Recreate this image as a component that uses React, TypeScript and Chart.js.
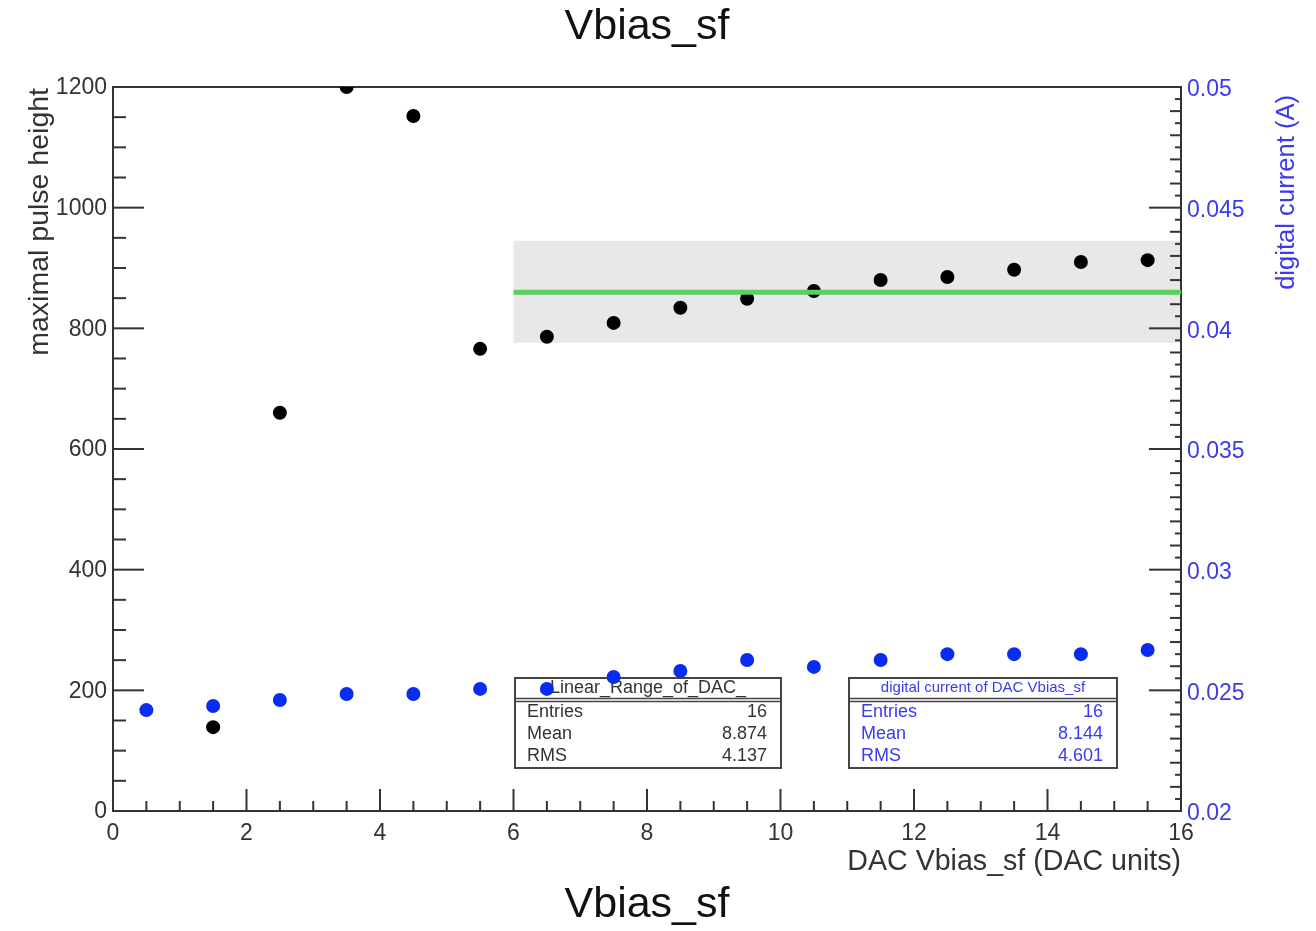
import React, { useEffect, useRef } from "react";
import { Chart, registerables } from "chart.js";

Chart.register(...registerables);

// ---------- data ----------
const dacValues = [0.5, 1.5, 2.5, 3.5, 4.5, 5.5, 6.5, 7.5, 8.5, 9.5, 10.5, 11.5, 12.5, 13.5, 14.5, 15.5];
const pulseHeight: (number | null)[] = [null, 139, 660, 1200, 1152, 766, 786, 809, 834, 849, 862, 880, 885, 897, 910, 913];
const digitalCurrent = [0.02418, 0.02435, 0.0246, 0.02485, 0.02485, 0.02506, 0.02506, 0.02555, 0.0258, 0.02626, 0.02597, 0.02626, 0.0265, 0.0265, 0.0265, 0.02667];

const fitRangeX = [6, 16];
const fitBandY = [776, 945];
const fitValue = 860;

const xTicks = [0, 2, 4, 6, 8, 10, 12, 14, 16];
const yTicks = [0, 200, 400, 600, 800, 1000, 1200];
const y2Ticks = [0.02, 0.025, 0.03, 0.035, 0.04, 0.045, 0.05];
const y2TickLabels = ["0.02", "0.025", "0.03", "0.035", "0.04", "0.045", "0.05"];

const statsLinearLabels = ["Entries", "Mean", "RMS"];
const statsLinearValues = ["16", "8.874", "4.137"];
const statsLinearTitle = "Linear_Range_of_DAC_";
const statsCurrentValues = ["16", "8.144", "4.601"];
const statsCurrentTitle = "digital current of DAC Vbias_sf";

const chartTitle = "Vbias_sf";
const xTitle = "DAC Vbias_sf (DAC units)";
const yTitle = "maximal pulse height";
const y2Title = "digital current (A)";

const FONT = '"Liberation Sans", Arial, Helvetica, sans-serif';
const AXIS = "#333333";
const BLUE_TXT = "#3a3aee";

function drawStats(ctx: CanvasRenderingContext2D, left: number, top: number, w: number, title: string, values: string[], color: string, titleSize: number) {
  const h = 90;
  ctx.save();
  ctx.fillStyle = "#ffffff";
  ctx.fillRect(left, top, w, h);
  ctx.strokeStyle = "#444444";
  ctx.lineWidth = 2;
  ctx.strokeRect(left, top, w, h);
  ctx.beginPath();
  ctx.moveTo(left, top + 20.5);
  ctx.lineTo(left + w, top + 20.5);
  ctx.moveTo(left, top + 23.5);
  ctx.lineTo(left + w, top + 23.5);
  ctx.lineWidth = 1.5;
  ctx.stroke();
  ctx.fillStyle = color;
  ctx.textBaseline = "middle";
  ctx.font = `${titleSize}px ${FONT}`;
  ctx.textAlign = "center";
  ctx.fillText(title, left + w / 2, top + 10, w - 30);
  ctx.font = `18px ${FONT}`;
  const rowsY = [34, 56, 78];
  for (let i = 0; i < statsLinearLabels.length; i++) {
    ctx.textAlign = "left";
    ctx.fillText(statsLinearLabels[i], left + 12, top + rowsY[i]);
    ctx.textAlign = "right";
    ctx.fillText(values[i], left + w - 14, top + rowsY[i]);
  }
  ctx.restore();
}

const decorPlugin = {
  id: "rootDecor",
  beforeDatasetsDraw(chart: any) {
    const { ctx, chartArea: a, scales } = chart;
    const xs = scales.x, ys = scales.y, y2 = scales.y2;
    ctx.save();
    // fit band
    const bx0 = xs.getPixelForValue(fitRangeX[0]);
    const bx1 = xs.getPixelForValue(fitRangeX[1]);
    const by0 = ys.getPixelForValue(fitBandY[1]);
    const by1 = ys.getPixelForValue(fitBandY[0]);
    ctx.fillStyle = "#e8e8e8";
    ctx.fillRect(bx0, by0, bx1 - bx0, by1 - by0);

    // frame
    ctx.strokeStyle = AXIS;
    ctx.lineWidth = 2;
    ctx.strokeRect(a.left, a.top, a.right - a.left, a.bottom - a.top);

    // left axis ticks
    ctx.lineWidth = 2;
    for (let v = 0; v <= 1200; v += 50) {
      const py = ys.getPixelForValue(v);
      const len = v % 200 === 0 ? 31 : 13;
      ctx.beginPath();
      ctx.moveTo(a.left, py);
      ctx.lineTo(a.left + len, py);
      ctx.stroke();
    }
    // bottom axis ticks
    for (let v = 0; v <= 16; v += 0.5) {
      const px = xs.getPixelForValue(v);
      const len = v % 2 === 0 ? 22 : 10;
      ctx.beginPath();
      ctx.moveTo(px, a.bottom);
      ctx.lineTo(px, a.bottom - len);
      ctx.stroke();
    }
    // right axis ticks
    for (let i = 0; i <= 60; i++) {
      const v = 0.02 + i * 0.0005;
      const py = y2.getPixelForValue(v);
      const len = i % 10 === 0 ? 32 : i % 2 === 0 ? 11 : 6;
      ctx.beginPath();
      ctx.moveTo(a.right, py);
      ctx.lineTo(a.right - len, py);
      ctx.stroke();
    }

    // stats boxes
    drawStats(ctx, 515, 678, 266, statsLinearTitle, statsLinearValues, "#333333", 18);
    drawStats(ctx, 849, 678, 268, statsCurrentTitle, statsCurrentValues, BLUE_TXT, 15);

    // tick labels
    ctx.fillStyle = AXIS;
    ctx.font = `23px ${FONT}`;
    ctx.textAlign = "right";
    ctx.textBaseline = "middle";
    yTicks.forEach((v) => {
      ctx.fillText(String(v), a.left - 6, ys.getPixelForValue(v) + 1);
    });
    ctx.textAlign = "center";
    ctx.textBaseline = "top";
    xTicks.forEach((v) => {
      ctx.fillText(String(v), xs.getPixelForValue(v), a.bottom + 11);
    });
    ctx.fillStyle = BLUE_TXT;
    ctx.textAlign = "left";
    ctx.textBaseline = "middle";
    y2Ticks.forEach((v, i) => {
      ctx.fillText(y2TickLabels[i], a.right + 6, y2.getPixelForValue(v) + 3);
    });

    // axis titles
    ctx.fillStyle = AXIS;
    ctx.font = `28.6px ${FONT}`;
    ctx.textAlign = "right";
    ctx.textBaseline = "alphabetic";
    ctx.fillText(xTitle, a.right, a.bottom + 59);

    ctx.save();
    ctx.font = `28.5px ${FONT}`;
    ctx.translate(48, a.top + 1);
    ctx.rotate(-Math.PI / 2);
    ctx.textAlign = "right";
    ctx.fillText(yTitle, 0, 0);
    ctx.restore();

    ctx.save();
    ctx.fillStyle = BLUE_TXT;
    ctx.font = `25.6px ${FONT}`;
    ctx.translate(1294, a.top + 8);
    ctx.rotate(-Math.PI / 2);
    ctx.textAlign = "right";
    ctx.fillText(y2Title, 0, 0);
    ctx.restore();

    // titles
    ctx.fillStyle = "#111111";
    ctx.font = `43px ${FONT}`;
    ctx.textAlign = "center";
    ctx.textBaseline = "middle";
    ctx.fillText(chartTitle, 647, 27);
    ctx.fillText(chartTitle, 647, 905);
    ctx.restore();
  },
  afterDatasetsDraw(chart: any) {
    const { ctx, scales } = chart;
    const xs = scales.x, ys = scales.y;
    ctx.save();
    ctx.strokeStyle = "#5ccf5c";
    ctx.lineWidth = 5;
    ctx.beginPath();
    const py = ys.getPixelForValue(fitValue);
    ctx.moveTo(xs.getPixelForValue(fitRangeX[0]), py);
    ctx.lineTo(xs.getPixelForValue(fitRangeX[1]), py);
    ctx.stroke();
    ctx.restore();
  },
};

export default function App() {
  const ref = useRef<HTMLCanvasElement | null>(null);
  useEffect(() => {
    if (!ref.current) return;
    const chart = new Chart(ref.current, {
      type: "scatter",
      data: {
        datasets: [
          {
            label: "digital current",
            data: dacValues.map((x, i) => ({ x, y: digitalCurrent[i] })),
            yAxisID: "y2",
            backgroundColor: "#0a2cf0",
            borderColor: "#0a2cf0",
            pointRadius: 7,
            pointBorderWidth: 0,
          },
          {
            label: "maximal pulse height",
            data: dacValues
              .map((x, i) => ({ x, y: pulseHeight[i] }))
              .filter((p) => p.y !== null) as any,
            yAxisID: "y",
            backgroundColor: "#000000",
            borderColor: "#000000",
            pointRadius: 7,
            pointBorderWidth: 0,
          },
        ],
      },
      options: {
        responsive: false,
        animation: false,
        layout: { padding: { left: 113, right: 135, top: 87, bottom: 120 } },
        plugins: { legend: { display: false }, tooltip: { enabled: false }, title: { display: false } },
        scales: {
          x: { type: "linear", min: 0, max: 16, display: false },
          y: { type: "linear", min: 0, max: 1200, display: false },
          y2: { type: "linear", min: 0.02, max: 0.05, display: false, position: "right" },
        },
      },
      plugins: [decorPlugin],
    });
    return () => chart.destroy();
  }, []);
  return (
    <div style={{ position: "absolute", left: 0, top: 0, width: 1316, height: 931, background: "#fff" }}>
      <canvas ref={ref} width={1316} height={931} style={{ width: 1316, height: 931 }} />
    </div>
  );
}
